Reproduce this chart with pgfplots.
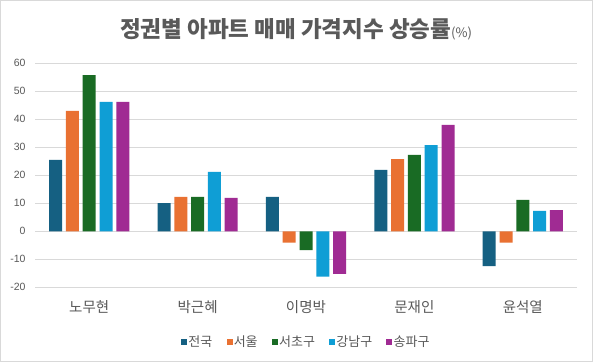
\documentclass[border=0pt]{standalone}
\usepackage{fontspec}
\setmainfont{Noto Sans CJK KR}
\newfontfamily\numfont{Liberation Sans}
\usepackage{pgfplots}
\pgfplotsset{compat=1.18}
\definecolor{c1}{HTML}{156082}
\definecolor{c2}{HTML}{E97132}
\definecolor{c3}{HTML}{196B24}
\definecolor{c4}{HTML}{0F9ED5}
\definecolor{c5}{HTML}{A02B93}
\definecolor{tc}{HTML}{595959}
\definecolor{gc}{HTML}{D9D9D9}
\begin{document}
\begin{tikzpicture}
\useasboundingbox (0pt,0pt) rectangle (593pt,362pt);
\draw[fill=white, draw=gc, line width=1pt] (0.5pt,0.5pt) rectangle (592.5pt,361.5pt);
\begin{axis}[
  at={(35pt,74.7pt)}, anchor=south west,
  scale only axis, width=542pt, height=224pt,
  ymin=-20, ymax=60, xmin=-0.5, xmax=4.5,
  ytick={-20,-10,0,10,20,30,40,50,60},
  xtick={0,1,2,3,4},
  xticklabels={노무현,박근혜,이명박,문재인,윤석열},
  ymajorgrids, grid style={draw=gc, line width=0.8pt},
  axis line style={draw=none},
  major tick length=0pt,
  /pgf/number format/assume math mode=true,
  yticklabel style={font=\fontsize{10.5}{12}\selectfont\numfont, text=tc, xshift=-6pt},
  xticklabel style={font=\fontsize{14.5}{16}\selectfont, text=tc, yshift=-10pt},
  ybar=3.8pt, bar width=13pt,
  legend style={at={(0.5,-0.242)}, anchor=center, legend columns=5, draw=none, fill=none,
    font=\fontsize{13}{15}\selectfont, text=tc,
    nodes={inner sep=1.2pt},
    /tikz/every even column/.append style={column sep=13pt}},
  legend image code/.code={\fill[#1] (0pt,-3pt) rectangle (6pt,3pt);},
]
\addplot[fill=c1, draw=none] coordinates {(0,25.5) (1,10.1) (2,12.3) (3,21.9) (4,-12.4)};
\addplot[fill=c2, draw=none] coordinates {(0,43.0) (1,12.3) (2,-4.0) (3,25.8) (4,-4.0)};
\addplot[fill=c3, draw=none] coordinates {(0,55.8) (1,12.3) (2,-6.7) (3,27.3) (4,11.2)};
\addplot[fill=c4, draw=none] coordinates {(0,46.2) (1,21.2) (2,-16.2) (3,30.8) (4,7.3)};
\addplot[fill=c5, draw=none] coordinates {(0,46.2) (1,11.9) (2,-15.2) (3,38.0) (4,7.6)};
\legend{전국,서울,서초구,강남구,송파구}
\end{axis}
\node[text=tc, font=\fontsize{22.5}{24}\selectfont\bfseries] at (296pt,333pt) {정권별 아파트 매매 가격지수 상승률{\fontsize{13}{15}\selectfont\mdseries(\%)}};
\end{tikzpicture}
\end{document}
